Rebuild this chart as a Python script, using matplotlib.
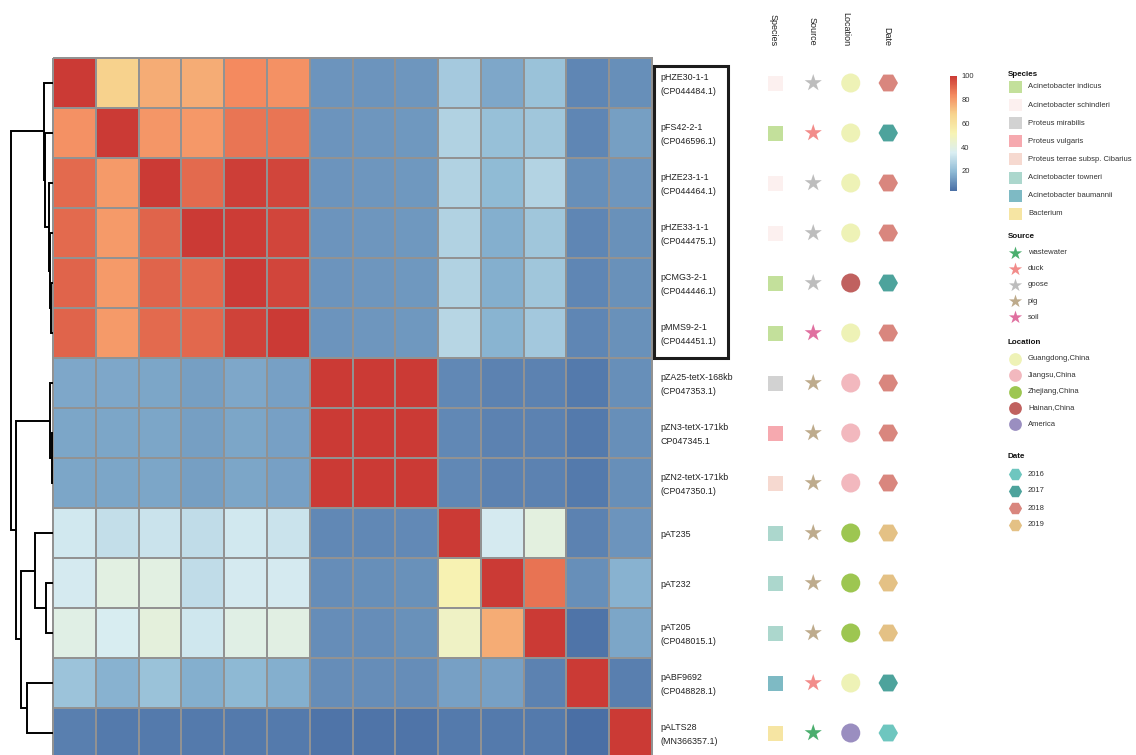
import numpy as np
import matplotlib.pyplot as plt
from matplotlib.colors import LinearSegmentedColormap
from matplotlib.patches import Rectangle

plt.rcParams['font.family'] = ['Liberation Sans', 'DejaVu Sans']

plasmids = [
    "pHZE30-1-1\n(CP044484.1)",
    "pFS42-2-1\n(CP046596.1)",
    "pHZE23-1-1\n(CP044464.1)",
    "pHZE33-1-1\n(CP044475.1)",
    "pCMG3-2-1\n(CP044446.1)",
    "pMMS9-2-1\n(CP044451.1)",
    "pZA25-tetX-168kb\n(CP047353.1)",
    "pZN3-tetX-171kb\nCP047345.1",
    "pZN2-tetX-171kb\n(CP047350.1)",
    "pAT235",
    "pAT232",
    "pAT205\n(CP048015.1)",
    "pABF9692\n(CP048828.1)",
    "pALTS28\n(MN366357.1)",
]

# pairwise identity (%), rows/cols in dendrogram order
identity = [
    [100, 68, 76.5, 76.5, 84, 82.3, 11, 11.2, 11.5, 24.1, 15.5, 21.6, 8, 10.1],
    [82.3, 100, 81.2, 81, 88, 88, 11.2, 11.7, 11.9, 26.7, 20.9, 22.9, 8, 13.3],
    [90.4, 80.3, 100, 90.4, 99, 97.6, 11, 11.7, 11.9, 26.7, 19.6, 26.9, 9.9, 11.7],
    [90.4, 80.3, 91.4, 100, 99.6, 97.6, 11, 11.7, 11.9, 26.7, 17, 22.9, 8, 10.5],
    [91.4, 80.3, 91.4, 90.8, 100, 97.6, 11, 11.7, 11.9, 26.7, 17, 22.9, 8, 10.5],
    [91.4, 80.3, 90.4, 90.8, 98.4, 100, 11, 11.7, 11.9, 28, 18, 23.5, 8, 10.5],
    [15.5, 15.5, 15, 13.3, 15.5, 13.8, 100, 100, 100, 8.6, 7.5, 7.5, 5.3, 9.9],
    [15, 15, 15, 13.3, 15, 13.8, 100, 100, 100, 8.6, 7.5, 7.5, 5.3, 9.9],
    [15, 15, 15, 13.3, 15, 13.8, 100, 100, 100, 8.6, 7.5, 7.5, 5.3, 9.9],
    [33.6, 30.6, 31.9, 29.7, 33.6, 31.9, 8.6, 8.6, 9.0, 100, 34.4, 40.5, 7.5, 11],
    [34.4, 39.7, 39.7, 29.7, 34.4, 34.2, 9.5, 9.9, 10.2, 52.5, 100, 88.6, 9.9, 17.5],
    [38.9, 35, 41, 33.2, 38.9, 39.2, 9.5, 9.5, 10.2, 47.3, 76.5, 100, 4.2, 15],
    [22, 17.5, 21.6, 17, 19, 17, 9.5, 9.5, 9.7, 13.8, 13.8, 7.5, 100, 6.6],
    [6.6, 5.3, 5.3, 5.3, 5.3, 5.3, 4.5, 4.5, 4.5, 5.3, 5.3, 5.3, 3.2, 100],
]

species = [
    "Acinetobacter schindleri", "Acinetobacter indicus", "Acinetobacter schindleri",
    "Acinetobacter schindleri", "Acinetobacter indicus", "Acinetobacter indicus",
    "Proteus mirabilis", "Proteus vulgaris", "Proteus terrae subsp. Cibarius",
    "Acinetobacter towneri", "Acinetobacter towneri", "Acinetobacter towneri",
    "Acinetobacter baumannii", "Bacterium",
]
source = ["goose", "duck", "goose", "goose", "goose", "soil",
          "pig", "pig", "pig", "pig", "pig", "pig", "duck", "wastewater"]
location = ["Guangdong,China", "Guangdong,China", "Guangdong,China", "Guangdong,China",
            "Hainan,China", "Guangdong,China", "Jiangsu,China", "Jiangsu,China",
            "Jiangsu,China", "Zhejiang,China", "Zhejiang,China", "Zhejiang,China",
            "Guangdong,China", "America"]
year = ["2018", "2017", "2018", "2018", "2017", "2018", "2018", "2018", "2018",
        "2019", "2019", "2019", "2017", "2016"]

# hierarchical merges (a, b, height), new clusters get ids 14, 15, ...
merges = [
    (4, 5, 0.055), (3, 14, 0.071), (2, 15, 0.09), (1, 16, 0.19), (0, 17, 0.207),
    (7, 8, 0.024), (6, 19, 0.06), (10, 11, 0.167), (9, 21, 0.43),
    (12, 13, 0.62), (22, 23, 0.76), (20, 24, 0.88), (18, 25, 1.0),
]

species_colors = {
    "Acinetobacter indicus": "#C3E09B",
    "Acinetobacter schindleri": "#FCF0EF",
    "Proteus mirabilis": "#D2D2D2",
    "Proteus vulgaris": "#F6A9AF",
    "Proteus terrae subsp. Cibarius": "#F6D9D0",
    "Acinetobacter towneri": "#ACD7CD",
    "Acinetobacter baumannii": "#7EBAC4",
    "Bacterium": "#F6E5A3",
}
source_colors = {"wastewater": "#4BAE6E", "duck": "#F28C8A", "goose": "#BDBDBD",
                 "pig": "#BEAB8C", "soil": "#E070A0"}
location_colors = {"Guangdong,China": "#EEF2B6", "Jiangsu,China": "#F2B8BE",
                   "Zhejiang,China": "#9DC651", "Hainan,China": "#C0615F",
                   "America": "#9A8EC0"}
year_colors = {"2016": "#6EC6BF", "2017": "#4DA39C", "2018": "#D9867E", "2019": "#E4C185"}

cmap = LinearSegmentedColormap.from_list(
    "rdylbu_soft",
    ["#4A6FA5", "#8FBAD5", "#DAEEF2", "#F7F4B4", "#F7D48E", "#F48B60", "#CB3A35"])

W, H = 1136, 755
fig = plt.figure(figsize=(W / 100, H / 100), dpi=100)


def px_axes(l, t, r, b):
    return fig.add_axes([l / W, 1 - b / H, (r - l) / W, (b - t) / H])


n = len(plasmids)

# heatmap
ax = px_axes(53, 58, 652, 758)
mesh = ax.pcolormesh(np.array(identity), cmap=cmap, vmin=3, vmax=100,
                     edgecolors="#929292", linewidth=1.4)
mesh.set_clip_on(False)
ax.set_xlim(0, n)
ax.set_ylim(n, 0)
ax.axis("off")

for i, lab in enumerate(plasmids):
    ax.annotate(lab, xy=(n, i + 0.5), xytext=(6, -1), textcoords="offset points",
                ha="left", va="center", fontsize=6.4, color="#222222",
                linespacing=1.75, annotation_clip=False)

# row dendrogram
axd = px_axes(0, 58, 53, 758)
pos = {i: (i + 0.5, 0.0) for i in range(n)}
for k, (a, b, h) in enumerate(merges):
    ya, ha = pos[a]
    yb, hb = pos[b]
    axd.plot([ha, h, h, hb], [ya, ya, yb, yb], color="black", lw=1.4,
             solid_capstyle="butt", solid_joinstyle="miter")
    pos[n + k] = ((ya + yb) / 2, h)
axd.set_xlim(1.26, 0)
axd.set_ylim(n, 0)
axd.axis("off")

# annotation columns
axa = px_axes(757, 58, 907, 758)
rows = np.arange(n) + 0.5
axa.scatter(np.full(n, 0.5), rows, marker="s", s=10.8 ** 2, linewidths=0,
            c=[species_colors[s] for s in species])
axa.scatter(np.full(n, 1.5), rows, marker="*", s=13 ** 2, linewidths=0,
            c=[source_colors[s] for s in source])
axa.scatter(np.full(n, 2.5), rows, marker="o", s=13.7 ** 2, linewidths=0,
            c=[location_colors[s] for s in location])
axa.scatter(np.full(n, 3.5), rows, marker="H", s=14 ** 2, linewidths=0,
            c=[year_colors[s] for s in year])
axa.set_xlim(0, 4)
axa.set_ylim(n, 0)
axa.axis("off")

# overlay in pixel units for headers, box and legends
axo = fig.add_axes([0, 0, 1, 1])
axo.set_xlim(0, W)
axo.set_ylim(H, 0)
axo.axis("off")

for x, name in zip([773, 812, 846, 887], ["Species", "Source", "Location", "Date"]):
    axo.text(x, 46, name, rotation=270, ha="center", va="bottom",
             fontsize=6.5, color="#222222")

axo.add_patch(Rectangle((654, 66), 74, 292, fill=False, lw=2.2, ec="#1c1c1c"))

# colorbar
cax = px_axes(950, 76, 957, 191)
cb = fig.colorbar(mesh, cax=cax, ticks=[20, 40, 60, 80, 100])
cb.outline.set_visible(False)
cax.tick_params(length=0, labelsize=5.5, pad=3, colors="#333333")

# legends
lx, tx = 1015, 1028
title_kw = dict(fontsize=5.8, fontweight="bold", color="#111111", va="center")
item_kw = dict(fontsize=5.5, color="#333333", va="center")

axo.text(1008, 74, "Species", **title_kw)
for k, (name, col) in enumerate(species_colors.items()):
    y = 87 + 18.1 * k
    axo.add_patch(Rectangle((1009, y - 6), 13, 12, color=col, lw=0))
    axo.text(tx, y, name, **item_kw)

axo.text(1008, 236, "Source", **title_kw)
for k, (name, col) in enumerate(source_colors.items()):
    y = 252.5 + 16.2 * k
    axo.scatter(lx, y, marker="*", s=10 ** 2, color=col, linewidths=0)
    axo.text(tx, y, name, **item_kw)

axo.text(1008, 342, "Location", **title_kw)
for k, (name, col) in enumerate(location_colors.items()):
    y = 359 + 16.3 * k
    axo.scatter(lx, y, marker="o", s=9.2 ** 2, color=col, linewidths=0)
    axo.text(tx, y, name, **item_kw)

axo.text(1008, 456, "Date", **title_kw)
for k, (name, col) in enumerate(year_colors.items()):
    y = 474 + 17 * k
    axo.scatter(lx, y, marker="H", s=9.5 ** 2, color=col, linewidths=0)
    axo.text(tx, y, name, **item_kw)

fig.savefig("out.png", dpi=100)
